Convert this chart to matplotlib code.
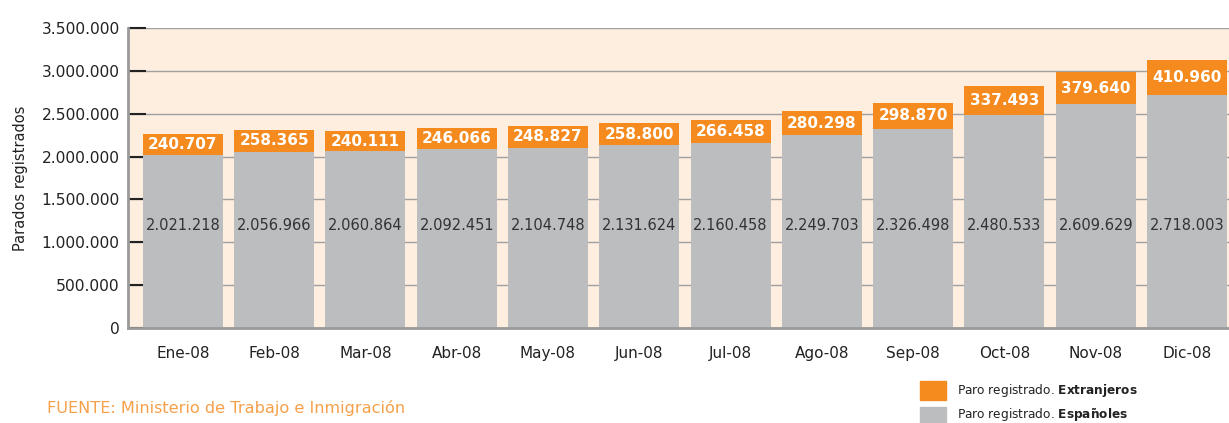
import numpy as np
import matplotlib.pyplot as plt
from matplotlib.patches import Rectangle
from matplotlib.ticker import FuncFormatter

plt.rcParams['font.family'] = ['DejaVu Sans']

meses = ["Ene-08", "Feb-08", "Mar-08", "Abr-08", "May-08", "Jun-08",
         "Jul-08", "Ago-08", "Sep-08", "Oct-08", "Nov-08", "Dic-08"]
espanoles = [2021218, 2056966, 2060864, 2092451, 2104748, 2131624,
             2160458, 2249703, 2326498, 2480533, 2609629, 2718003]
extranjeros = [240707, 258365, 240111, 246066, 248827, 258800,
               266458, 280298, 298870, 337493, 379640, 410960]

naranja = "#f58a1f"
gris = "#bcbdbf"
fondo = "#fdeee0"


def miles(v):
    return f"{int(v):,}".replace(",", ".")


fig = plt.figure(figsize=(12.29, 4.23), dpi=100)
ax = fig.add_axes([0.1042, 0.2246, 0.8958, 0.7092])
ax.set_facecolor(fondo)

x = np.arange(len(meses))
ax.bar(x, espanoles, width=0.876, color=gris, zorder=2)
ax.bar(x, extranjeros, width=0.876, bottom=espanoles, color=naranja, zorder=2)

for i in range(len(meses)):
    ax.text(x[i], 1200000, miles(espanoles[i]), ha="center", va="center",
            fontsize=10.5, color="#333333", zorder=3)
    ax.text(x[i], espanoles[i] + extranjeros[i] / 2, miles(extranjeros[i]),
            ha="center", va="center", fontsize=11, fontweight="bold",
            color="white", zorder=3)

ax.set_xlim(-0.6, 11.46)
ax.set_ylim(0, 3500000)
ax.set_yticks(np.arange(0, 3500001, 500000))
ax.yaxis.set_major_formatter(FuncFormatter(lambda v, p: miles(v)))
ax.grid(axis="y", color="#a0a0a0", linewidth=1, zorder=1)
ax.set_xticks(x)
ax.set_xticklabels(meses)
ax.tick_params(axis="x", length=0, pad=13, labelsize=11, colors="#222222")
ax.tick_params(axis="y", direction="in", length=13, width=1.5, color="#222222",
               pad=6, labelsize=11.2, labelcolor="#222222")
for s in ["top", "right"]:
    ax.spines[s].set_visible(False)
for s in ["left", "bottom"]:
    ax.spines[s].set_color("#9a9a9a")
    ax.spines[s].set_linewidth(2)
ax.set_ylabel("Parados registrados", fontsize=10.5, color="#222222", labelpad=10)

# leyenda
fig.patches.append(Rectangle((920 / 1229, 1 - 400 / 423), 26 / 1229, 19 / 423,
                             color=naranja, transform=fig.transFigure))
fig.patches.append(Rectangle((920 / 1229, 1 - 426 / 423), 26 / 1229, 19 / 423,
                             color=gris, transform=fig.transFigure))
fig.text(957 / 1229, 1 - 390 / 423, r"Paro registrado. $\bf{Extranjeros}$",
         fontsize=8.7, va="center", color="#222222")
fig.text(957 / 1229, 1 - 415 / 423, r"Paro registrado. $\bf{Espa\~noles}$",
         fontsize=8.7, va="center", color="#222222")

fig.text(47 / 1229, 1 - 408 / 423, "FUENTE: Ministerio de Trabajo e Inmigración",
         fontsize=11.6, va="center", color="#f7a04a")

fig.savefig("out.png", dpi=100)
